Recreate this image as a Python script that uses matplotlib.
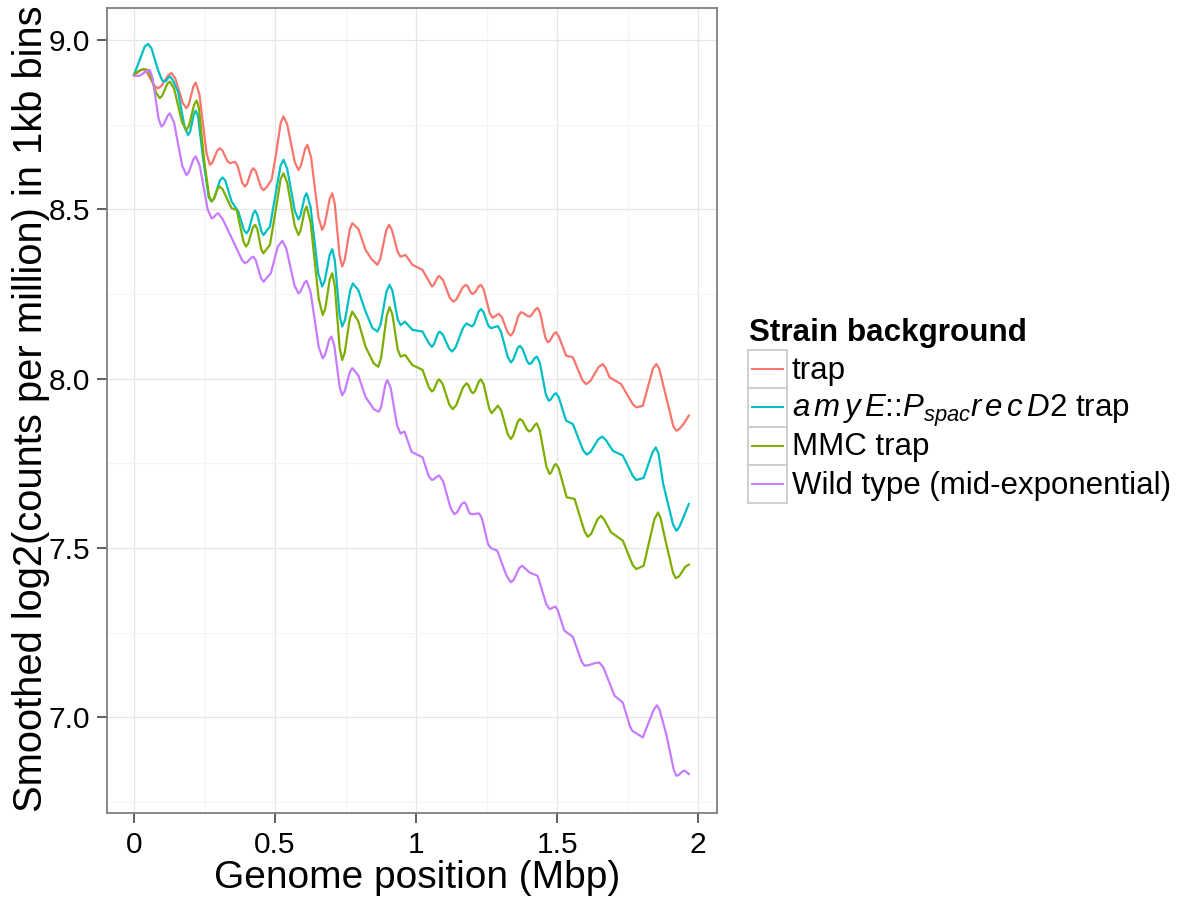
import matplotlib
matplotlib.use("Agg")
import matplotlib.pyplot as plt
from matplotlib.patches import Rectangle
from matplotlib.lines import Line2D

# --- data (genome position in Mbp, smoothed log2 CPM) ---
trap_x = [0.000, 0.012, 0.024, 0.032, 0.045, 0.072, 0.085, 0.097, 0.121, 0.133,
          0.146, 0.173, 0.186, 0.194, 0.211, 0.219, 0.232, 0.257, 0.269, 0.278,
          0.295, 0.304, 0.313, 0.331, 0.340, 0.358, 0.367, 0.384, 0.393, 0.401,
          0.416, 0.423, 0.432, 0.450, 0.459, 0.470, 0.488, 0.505, 0.520, 0.530,
          0.543, 0.570, 0.583, 0.591, 0.607, 0.615, 0.628, 0.654, 0.667, 0.676,
          0.694, 0.703, 0.712, 0.729, 0.738, 0.747, 0.765, 0.774, 0.796, 0.821,
          0.841, 0.863, 0.873, 0.894, 0.904, 0.914, 0.935, 0.945, 0.963, 0.987,
          1.023, 1.056, 1.063, 1.076, 1.082, 1.095, 1.120, 1.132, 1.143, 1.166,
          1.177, 1.183, 1.194, 1.200, 1.208, 1.223, 1.230, 1.240, 1.261, 1.271,
          1.277, 1.288, 1.293, 1.304, 1.325, 1.336, 1.345, 1.363, 1.372, 1.380,
          1.395, 1.402, 1.409, 1.424, 1.431, 1.440, 1.458, 1.467, 1.474, 1.489,
          1.496, 1.506, 1.532, 1.556, 1.590, 1.603, 1.618, 1.647, 1.662, 1.672,
          1.686, 1.727, 1.768, 1.781, 1.804, 1.840, 1.852, 1.862, 1.881, 1.912,
          1.923, 1.934, 1.950, 1.967]
trap_y = [8.897, 8.903, 8.911, 8.913, 8.905, 8.865, 8.857, 8.864, 8.895, 8.902,
          8.887, 8.813, 8.798, 8.809, 8.863, 8.874, 8.839, 8.666, 8.631, 8.638,
          8.673, 8.680, 8.674, 8.642, 8.636, 8.640, 8.629, 8.578, 8.567, 8.575,
          8.613, 8.621, 8.612, 8.565, 8.556, 8.565, 8.587, 8.670, 8.755, 8.774,
          8.751, 8.639, 8.616, 8.627, 8.679, 8.690, 8.653, 8.476, 8.439, 8.455,
          8.531, 8.547, 8.515, 8.363, 8.331, 8.350, 8.440, 8.459, 8.441, 8.380,
          8.354, 8.336, 8.353, 8.437, 8.454, 8.440, 8.374, 8.360, 8.365, 8.336,
          8.321, 8.272, 8.277, 8.298, 8.303, 8.292, 8.238, 8.227, 8.234, 8.270,
          8.277, 8.273, 8.254, 8.250, 8.254, 8.273, 8.277, 8.263, 8.194, 8.180,
          8.182, 8.189, 8.191, 8.182, 8.136, 8.127, 8.137, 8.186, 8.196, 8.194,
          8.185, 8.183, 8.187, 8.205, 8.209, 8.194, 8.122, 8.107, 8.111, 8.133,
          8.137, 8.125, 8.068, 8.063, 7.995, 7.984, 7.993, 8.034, 8.043, 8.032,
          8.004, 7.984, 7.925, 7.915, 7.920, 8.030, 8.043, 8.030, 7.965, 7.860,
          7.846, 7.852, 7.868, 7.891]

recd2_x = [0.000, 0.020, 0.038, 0.050, 0.062, 0.085, 0.100, 0.109, 0.114, 0.123,
           0.127, 0.135, 0.156, 0.180, 0.192, 0.199, 0.212, 0.219, 0.227, 0.245,
           0.265, 0.275, 0.285, 0.304, 0.314, 0.324, 0.346, 0.370, 0.390, 0.399,
           0.407, 0.422, 0.429, 0.437, 0.452, 0.459, 0.482, 0.505, 0.520, 0.530,
           0.543, 0.570, 0.583, 0.590, 0.605, 0.612, 0.626, 0.653, 0.667, 0.676,
           0.694, 0.703, 0.712, 0.729, 0.738, 0.748, 0.767, 0.776, 0.795, 0.821,
           0.845, 0.863, 0.874, 0.895, 0.906, 0.916, 0.935, 0.945, 0.961, 0.987,
           1.023, 1.045, 1.056, 1.063, 1.077, 1.084, 1.095, 1.117, 1.128, 1.140,
           1.167, 1.179, 1.198, 1.206, 1.222, 1.230, 1.239, 1.256, 1.265, 1.290,
           1.301, 1.325, 1.336, 1.344, 1.360, 1.368, 1.377, 1.394, 1.402, 1.409,
           1.422, 1.429, 1.439, 1.460, 1.470, 1.477, 1.490, 1.496, 1.506, 1.532,
           1.556, 1.592, 1.605, 1.619, 1.646, 1.660, 1.672, 1.698, 1.733, 1.769,
           1.781, 1.807, 1.838, 1.850, 1.860, 1.876, 1.911, 1.923, 1.934, 1.950,
           1.967]
recd2_y = [8.897, 8.940, 8.980, 8.988, 8.975, 8.911, 8.880, 8.877, 8.879, 8.890,
           8.892, 8.885, 8.847, 8.740, 8.719, 8.729, 8.780, 8.791, 8.775, 8.650,
           8.535, 8.523, 8.533, 8.584, 8.594, 8.584, 8.523, 8.493, 8.438, 8.429,
           8.439, 8.486, 8.496, 8.485, 8.434, 8.424, 8.449, 8.560, 8.630, 8.646,
           8.620, 8.496, 8.470, 8.481, 8.536, 8.547, 8.507, 8.312, 8.272, 8.288,
           8.366, 8.382, 8.349, 8.187, 8.154, 8.173, 8.262, 8.281, 8.262, 8.198,
           8.150, 8.139, 8.159, 8.257, 8.277, 8.260, 8.175, 8.158, 8.168, 8.144,
           8.139, 8.105, 8.094, 8.101, 8.132, 8.139, 8.130, 8.089, 8.080, 8.092,
           8.151, 8.163, 8.154, 8.161, 8.198, 8.205, 8.197, 8.157, 8.149, 8.155,
           8.139, 8.064, 8.048, 8.055, 8.090, 8.097, 8.089, 8.051, 8.043, 8.046,
           8.062, 8.065, 8.046, 7.954, 7.935, 7.938, 7.954, 7.957, 7.945, 7.876,
           7.866, 7.789, 7.776, 7.784, 7.821, 7.829, 7.820, 7.787, 7.773, 7.712,
           7.701, 7.707, 7.782, 7.797, 7.778, 7.690, 7.570, 7.551, 7.563, 7.595,
           7.630]

mmc_x = [0.000, 0.015, 0.030, 0.040, 0.052, 0.078, 0.091, 0.100, 0.118, 0.127,
         0.142, 0.171, 0.186, 0.195, 0.213, 0.222, 0.230, 0.248, 0.266, 0.275,
         0.282, 0.297, 0.304, 0.314, 0.346, 0.364, 0.388, 0.397, 0.405, 0.421,
         0.429, 0.437, 0.451, 0.459, 0.482, 0.505, 0.520, 0.530, 0.543, 0.570,
         0.583, 0.590, 0.605, 0.612, 0.626, 0.655, 0.669, 0.678, 0.694, 0.703,
         0.712, 0.729, 0.738, 0.747, 0.765, 0.774, 0.795, 0.821, 0.850, 0.866,
         0.876, 0.896, 0.906, 0.916, 0.935, 0.945, 0.961, 0.987, 1.023, 1.045,
         1.056, 1.063, 1.076, 1.082, 1.094, 1.118, 1.130, 1.142, 1.167, 1.179,
         1.185, 1.196, 1.202, 1.209, 1.223, 1.230, 1.240, 1.259, 1.268, 1.290,
         1.302, 1.325, 1.336, 1.344, 1.360, 1.368, 1.377, 1.394, 1.402, 1.409,
         1.422, 1.428, 1.439, 1.462, 1.473, 1.479, 1.490, 1.496, 1.506, 1.534,
         1.562, 1.597, 1.609, 1.621, 1.644, 1.656, 1.667, 1.692, 1.733, 1.768,
         1.781, 1.807, 1.845, 1.858, 1.867, 1.885, 1.911, 1.921, 1.933, 1.955,
         1.967]
mmc_y = [8.897, 8.907, 8.913, 8.913, 8.910, 8.845, 8.828, 8.835, 8.870, 8.877,
         8.856, 8.755, 8.734, 8.747, 8.808, 8.821, 8.800, 8.650, 8.540, 8.523,
         8.529, 8.561, 8.567, 8.559, 8.503, 8.498, 8.405, 8.390, 8.399, 8.445,
         8.454, 8.442, 8.382, 8.370, 8.395, 8.510, 8.590, 8.606, 8.579, 8.451,
         8.424, 8.436, 8.496, 8.508, 8.461, 8.235, 8.188, 8.206, 8.293, 8.311,
         8.274, 8.092, 8.055, 8.076, 8.177, 8.198, 8.170, 8.094, 8.045, 8.035,
         8.061, 8.185, 8.211, 8.190, 8.086, 8.065, 8.070, 8.040, 8.026, 7.975,
         7.962, 7.967, 7.993, 7.998, 7.985, 7.923, 7.910, 7.921, 7.975, 7.986,
         7.982, 7.961, 7.957, 7.963, 7.992, 7.998, 7.983, 7.913, 7.898, 7.920,
         7.906, 7.836, 7.822, 7.831, 7.872, 7.881, 7.876, 7.849, 7.844, 7.848,
         7.864, 7.868, 7.846, 7.741, 7.719, 7.723, 7.744, 7.748, 7.735, 7.650,
         7.645, 7.550, 7.533, 7.542, 7.586, 7.595, 7.584, 7.546, 7.522, 7.450,
         7.438, 7.448, 7.585, 7.605, 7.588, 7.520, 7.427, 7.411, 7.417, 7.445,
         7.451]

wt_x = [0.000, 0.020, 0.045, 0.056, 0.066, 0.087, 0.097, 0.105, 0.120, 0.127,
        0.142, 0.171, 0.186, 0.194, 0.211, 0.219, 0.233, 0.261, 0.275, 0.281,
        0.293, 0.299, 0.315, 0.352, 0.383, 0.393, 0.401, 0.416, 0.423, 0.432,
        0.450, 0.459, 0.485, 0.510, 0.526, 0.540, 0.569, 0.583, 0.590, 0.605,
        0.612, 0.626, 0.655, 0.669, 0.677, 0.692, 0.700, 0.710, 0.729, 0.738,
        0.747, 0.765, 0.774, 0.795, 0.821, 0.850, 0.868, 0.876, 0.891, 0.898,
        0.910, 0.933, 0.945, 0.959, 0.984, 1.023, 1.045, 1.056, 1.063, 1.076,
        1.082, 1.096, 1.123, 1.136, 1.145, 1.162, 1.171, 1.177, 1.188, 1.194,
        1.202, 1.217, 1.224, 1.234, 1.255, 1.265, 1.288, 1.320, 1.336, 1.346,
        1.366, 1.376, 1.402, 1.431, 1.462, 1.473, 1.478, 1.489, 1.494, 1.502,
        1.526, 1.556, 1.587, 1.597, 1.610, 1.637, 1.650, 1.664, 1.704, 1.733,
        1.758, 1.766, 1.804, 1.842, 1.854, 1.863, 1.887, 1.914, 1.923, 1.931,
        1.945, 1.953, 1.967]
wt_y = [8.894, 8.894, 8.908, 8.911, 8.887, 8.768, 8.744, 8.750, 8.777, 8.783,
        8.756, 8.628, 8.601, 8.609, 8.648, 8.656, 8.629, 8.500, 8.473, 8.475,
        8.486, 8.488, 8.470, 8.405, 8.350, 8.341, 8.344, 8.357, 8.360, 8.349,
        8.297, 8.286, 8.311, 8.390, 8.407, 8.384, 8.275, 8.252, 8.257, 8.284,
        8.289, 8.256, 8.093, 8.060, 8.069, 8.115, 8.124, 8.099, 7.976, 7.951,
        7.963, 8.019, 8.031, 8.010, 7.946, 7.910, 7.902, 7.916, 7.982, 7.996,
        7.973, 7.861, 7.838, 7.844, 7.784, 7.768, 7.712, 7.701, 7.703, 7.712,
        7.714, 7.697, 7.617, 7.600, 7.605, 7.630, 7.635, 7.630, 7.605, 7.600,
        7.600, 7.602, 7.602, 7.587, 7.512, 7.500, 7.492, 7.420, 7.399, 7.406,
        7.441, 7.448, 7.428, 7.418, 7.334, 7.320, 7.321, 7.326, 7.327, 7.317,
        7.256, 7.238, 7.165, 7.153, 7.154, 7.161, 7.162, 7.148, 7.064, 7.044,
        6.975, 6.961, 6.941, 7.022, 7.036, 7.024, 6.951, 6.845, 6.828, 6.830,
        6.841, 6.843, 6.833]

labels = ['trap',
          r'$a\,m\,y\,E$::$P_{spac}r\,e\,c\,D$2 trap',
          'MMC trap',
          'Wild type (mid-exponential)']
colors = ['#F8766D', '#00BFC4', '#7CAE00', '#C77CFF']
x_ticks = [0, 0.5, 1, 1.5, 2]
x_ticklabels = ['0', '0.5', '1', '1.5', '2']
y_ticks = [7.0, 7.5, 8.0, 8.5, 9.0]
y_ticklabels = ['7.0', '7.5', '8.0', '8.5', '9.0']

plt.rcParams['font.family'] = ['Liberation Sans', 'DejaVu Sans']
plt.rcParams['mathtext.fontset'] = 'custom'
plt.rcParams['mathtext.rm'] = 'Liberation Sans'
plt.rcParams['mathtext.it'] = 'Liberation Sans:italic'

W, H = 1178, 898
fig = plt.figure(figsize=(W / 100, H / 100), dpi=100)

def fx(px):
    return px / W

def fy(py):
    return 1 - py / H

# panel placement (pixels from the reference)
ax = fig.add_axes([fx(107), fy(813), (717 - 107) / W, (813 - 8) / H])

series = [(trap_x, trap_y), (recd2_x, recd2_y), (mmc_x, mmc_y), (wt_x, wt_y)]
for (xs, ys), c in zip(series, colors):
    ax.plot(xs, ys, color=c, lw=1.6, solid_joinstyle='round', zorder=3)

ax.set_xlim(-0.0957, 2.067)
ax.set_ylim(6.718, 9.094)

ax.set_xticks(x_ticks)
ax.set_xticklabels(x_ticklabels)
ax.set_yticks(y_ticks)
ax.set_yticklabels(y_ticklabels)
ax.set_xticks([0.25, 0.75, 1.25, 1.75], minor=True)
ax.set_yticks([6.75, 7.25, 7.75, 8.25, 8.75], minor=True)

ax.grid(which='major', color='#E6E6E6', lw=0.9, zorder=0)
ax.grid(which='minor', color='#F4F4F4', lw=0.8, zorder=0)
ax.set_axisbelow(True)

ax.tick_params(which='major', length=7, width=1.1, color='#333333',
               labelsize=21.5, labelcolor='black')
ax.tick_params(axis='x', pad=6)
ax.tick_params(axis='y', pad=5)
ax.tick_params(which='minor', length=0)

for sp in ax.spines.values():
    sp.set_color('#7F7F7F')
    sp.set_linewidth(1.3)
    sp.set_zorder(4)

# axis titles
fig.text(fx(417), fy(888), 'Genome position (Mbp)', fontsize=28,
         ha='center', va='baseline')
fig.text(fx(42), fy(408.5), 'Smoothed log2(counts per million) in 1kb bins',
         fontsize=28.7, rotation=90, rotation_mode='anchor',
         ha='center', va='baseline')

# legend, drawn ggplot style
fig.text(fx(749), fy(341), 'Strain background', fontsize=22.6, weight='bold',
         ha='left', va='baseline')
key_top, key_h = 350, 38.3
for i, (lab, c) in enumerate(zip(labels, colors)):
    top = key_top + i * key_h
    fig.add_artist(Rectangle((fx(748), fy(top + key_h)), 39 / W, key_h / H,
                             transform=fig.transFigure, facecolor='white',
                             edgecolor='#CCCCCC', lw=1.3))
    mid = top + key_h / 2
    fig.add_artist(Line2D([fx(752), fx(783)], [fy(mid), fy(mid)],
                          transform=fig.transFigure, color=c, lw=1.4))
    fig.text(fx(792), fy(mid + 9.5), lab, fontsize=22.5, ha='left', va='baseline')

fig.savefig('out.png', dpi=100)
